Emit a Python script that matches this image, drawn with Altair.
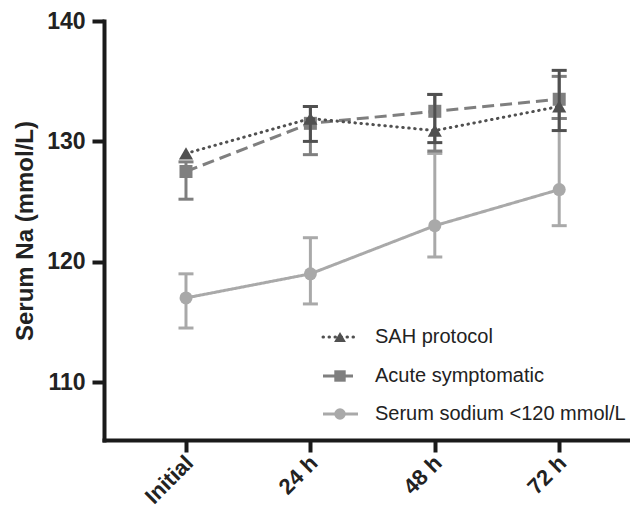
import altair as alt
import pandas as pd

categories = ["Initial", "24 h", "48 h", "72 h"]
series_names = ["SAH protocol", "Acute symptomatic", "Serum sodium <120 mmol/L"]

sah_mean = [129.0, 131.9, 130.9, 132.9]
sah_low = [129.0, 130.0, 129.9, 130.9]
sah_high = [129.0, 132.9, 133.9, 135.9]

acute_mean = [127.5, 131.5, 132.5, 133.5]
acute_low = [125.2, 128.9, 129.2, 131.9]
acute_high = [128.3, 132.9, 133.9, 135.4]

serum_mean = [117.0, 119.0, 123.0, 126.0]
serum_low = [114.5, 116.5, 120.4, 123.0]
serum_high = [119.0, 122.0, 129.0, 131.9]

values = {
    "SAH protocol": (sah_mean, sah_low, sah_high),
    "Acute symptomatic": (acute_mean, acute_low, acute_high),
    "Serum sodium <120 mmol/L": (serum_mean, serum_low, serum_high),
}

styles = {
    "SAH protocol": dict(color="#505050", dash=[0.5, 5.5], cap="round", width=3,
                         shape="triangle-up", size=200, lsize=140),
    "Acute symptomatic": dict(color="#7f7f7f", dash=[12, 6], cap="butt", width=3,
                              shape="square", size=169, lsize=130),
    "Serum sodium <120 mmol/L": dict(color="#a9a9a9", dash=[1, 0], cap="butt", width=3,
                                     shape="circle", size=169, lsize=130),
}

FONT = "Liberation Sans"
x_min, x_max = -0.659, 3.569
y_min, y_max = 105.2, 140

label_expr = "[" + ",".join("'" + c + "'" for c in categories) + "][datum.value]"

x_enc = alt.X("t:Q", scale=alt.Scale(domain=[x_min, x_max], nice=False, zero=False),
              axis=alt.Axis(values=[0, 1, 2, 3], labelExpr=label_expr, labelAngle=-45,
                            labelPadding=0, labelOffset=-4, labelFontSize=22,
                            title=None, grid=False))
y_enc = alt.Y("mean:Q", scale=alt.Scale(domain=[y_min, y_max], nice=False, zero=False),
              axis=alt.Axis(values=[110, 120, 130, 140], title="Serum Na (mmol/L)",
                            grid=False, labelPadding=7, titlePadding=9, labelFontSize=23))

layers = []
draw_order = ["Serum sodium <120 mmol/L", "Acute symptomatic", "SAH protocol"]
for name in draw_order:
    m, lo, hi = values[name]
    st = styles[name]
    df = pd.DataFrame({"t": list(range(len(categories))), "cat": categories,
                       "mean": m, "low": lo, "high": hi})
    dfe = df[df["high"] > df["low"]]
    base = alt.Chart(df)
    line = base.mark_line(color=st["color"], strokeWidth=st["width"],
                          strokeDash=st["dash"], strokeCap=st["cap"]).encode(x=x_enc, y=y_enc)
    err = alt.Chart(dfe).mark_rule(color=st["color"], strokeWidth=3).encode(
        x=alt.X("t:Q"), y=alt.Y("low:Q"), y2="high:Q")
    cap_lo = alt.Chart(dfe).mark_tick(color=st["color"], orient="horizontal",
                                      size=15, thickness=3, opacity=1).encode(
        x=alt.X("t:Q"), y=alt.Y("low:Q"))
    cap_hi = alt.Chart(dfe).mark_tick(color=st["color"], orient="horizontal",
                                      size=15, thickness=3, opacity=1).encode(
        x=alt.X("t:Q"), y=alt.Y("high:Q"))
    pts = base.mark_point(filled=True, shape=st["shape"], size=st["size"],
                          color=st["color"], opacity=1).encode(x=alt.X("t:Q"), y=alt.Y("mean:Q"))
    layers += [line, err, cap_lo, cap_hi, pts]

# manual legend (pixel layout relative to plot area)
leg_rows_y = [316, 355, 393]
leg_line_x0, leg_line_x1, leg_mark_x, leg_text_x = 219, 254, 236, 271
for name, yy in zip(series_names, leg_rows_y):
    st = styles[name]
    ldf = pd.DataFrame({"name": [name]})
    lb = alt.Chart(ldf)
    layers.append(lb.mark_rule(color=st["color"], strokeWidth=st["width"],
                               strokeDash=st["dash"], strokeCap=st["cap"]).encode(
        x=alt.value(leg_line_x0), x2=alt.value(leg_line_x1), y=alt.value(yy)))
    layers.append(lb.mark_point(filled=True, shape=st["shape"], size=st["lsize"],
                                color=st["color"], opacity=1).encode(
        x=alt.value(leg_mark_x), y=alt.value(yy)))
    layers.append(lb.mark_text(align="left", baseline="middle", font=FONT, fontSize=20,
                               color="#222222").encode(
        x=alt.value(leg_text_x), y=alt.value(yy), text="name:N"))

chart = alt.layer(*layers).properties(
    width=526, height=419,
    padding={"left": 96, "top": 13, "right": 0, "bottom": 68},
    autosize=alt.AutoSizeParams(type="none"),
).configure_view(stroke=None).configure_axis(
    domainColor="#1a1a1a", domainWidth=4, tickColor="#1a1a1a", tickWidth=4, tickSize=12,
    labelFont=FONT, labelFontWeight="bold", labelColor="#222222",
    titleFont=FONT, titleFontWeight="bold", titleFontSize=24,
    titleColor="#222222", domainCap="square",
)

chart.save("out.html", embed_options={"renderer": "svg", "actions": False})
